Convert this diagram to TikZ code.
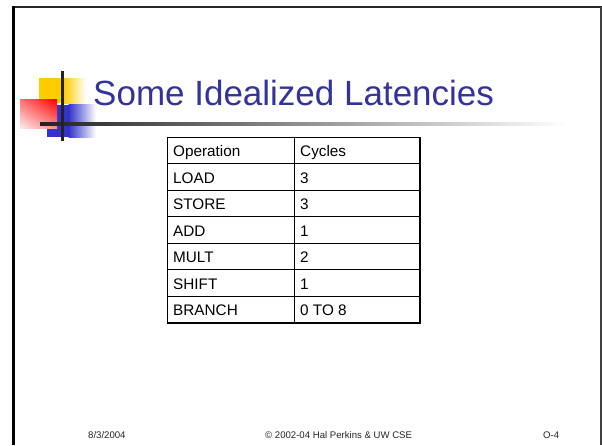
\documentclass[tikz,border=0pt]{standalone}
\usepackage{fontspec}
\setmainfont{Liberation Sans}
\usetikzlibrary{calc,shadings}
\definecolor{titleblue}{HTML}{333399}
\definecolor{logoyellow}{HTML}{FFCC00}
\definecolor{logoblue}{HTML}{3333CC}
\definecolor{logored}{HTML}{FF0000}
\definecolor{barline}{HTML}{222222}
\tikzset{
  celltext/.style={anchor=base west, inner sep=0pt, font=\fontsize{15.3}{18}\selectfont},
  foot/.style={anchor=base west, inner sep=0pt, font=\fontsize{9.6}{12}\selectfont, text=black!85},
  gridline/.style={line width=0.8pt, black},
  outline/.style={line width=1.6pt, black}
}
\begin{document}
\begin{tikzpicture}[x=1pt, y=-1pt]
\useasboundingbox (0,0) rectangle (602,445);
\fill[white] (0,0) rectangle (602,445);

% slide frame
\draw[line width=1.8pt, black!85] (12,7) -- (602,7);
\draw[line width=2.6pt, black] (13.3,6.2) -- (13.3,445);
\draw[line width=1.4pt, black!75] (600.8,7) -- (600.8,445);

% logo blocks
\fill[logoyellow] (39,78) rectangle (64,103);
\shade[left color=logoyellow, right color=white] (63.5,78) rectangle (86,103);
\fill[logoblue] (47,104.5) rectangle (69,137);
\shade[left color=logoblue, right color=white] (68.5,104.5) rectangle (96,137);
\shade[upper right=logored, upper left=logored!55, lower right=logored!45, lower left=logored!8]
  (20,99.5) rectangle (57,128);

% logo cross lines
\shade[left color=barline, right color=white] (40,122.5) rectangle (566,125);
\fill[barline] (61,71) rectangle (63.6,141);

% title
\node[anchor=base west, inner sep=0pt, text=titleblue,
      font=\fontsize{35}{40}\selectfont] (title) at (93,105) {Some Idealized Latencies};

% table grid
\foreach \k in {1,...,6}
  \draw[gridline] (167,{137+26.57*\k}) -- (420,{137+26.57*\k});
\draw[gridline] (294.5,137) -- (294.5,323);
\draw[outline] (167.5,137.5) rectangle (420,323);

% table cells
\node[celltext] (h1) at (173,{137+19.5}) {Operation};
\node[celltext] (h2) at (300,{137+19.5}) {Cycles};
\node[celltext] (r1a) at (173,{137+26.57*1+19.5}) {LOAD};
\node[celltext] (r1b) at (300,{137+26.57*1+19.5}) {3};
\node[celltext] (r2a) at (173,{137+26.57*2+19.5}) {STORE};
\node[celltext] (r2b) at (300,{137+26.57*2+19.5}) {3};
\node[celltext] (r3a) at (173,{137+26.57*3+19.5}) {ADD};
\node[celltext] (r3b) at (300,{137+26.57*3+19.5}) {1};
\node[celltext] (r4a) at (173,{137+26.57*4+19.5}) {MULT};
\node[celltext] (r4b) at (300,{137+26.57*4+19.5}) {2};
\node[celltext] (r5a) at (173,{137+26.57*5+19.5}) {SHIFT};
\node[celltext] (r5b) at (300,{137+26.57*5+19.5}) {1};
\node[celltext] (r6a) at (173,{137+26.57*6+19.5}) {BRANCH};
\node[celltext] (r6b) at (300,{137+26.57*6+19.5}) {0 TO 8};

% footer
\node[foot] (date) at (88,438) {8/3/2004};
\node[foot] (copy) at (265,438) {© 2002-04 Hal Perkins \& UW CSE};
\node[foot] (page) at (543,438) {O-4};
\end{tikzpicture}
\end{document}
